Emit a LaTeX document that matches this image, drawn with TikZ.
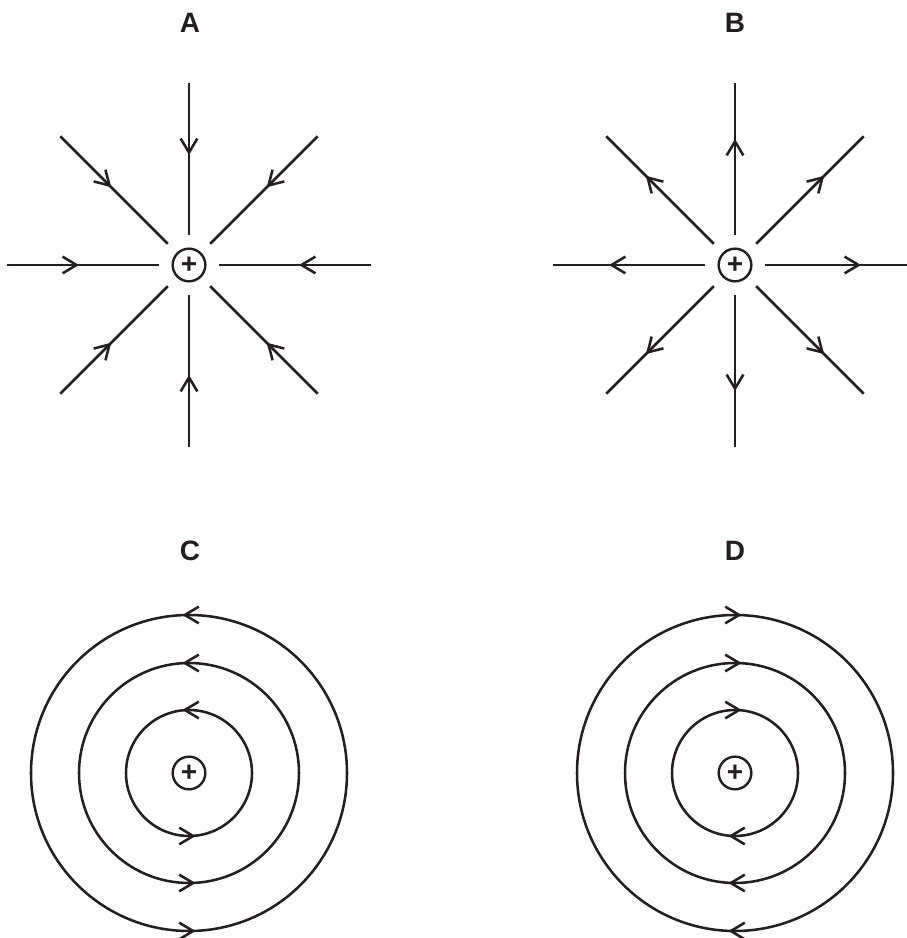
\documentclass[tikz,border=0pt]{standalone}
\usepackage{fontspec}
\setmainfont{Liberation Sans}
\definecolor{Linecol}{HTML}{231F20}
\usetikzlibrary{calc, arrows.meta, decorations.markings, positioning}
\tikzset{
    >={Straight Barb[length=10.5pt, width=12.5pt]},
    field/.style={line width=1.9pt, Linecol},
    charge/.style={circle, draw=Linecol, line width=1.8pt, minimum size=24.5pt,
        inner sep=0pt, text=Linecol, font=\fontsize{21}{21}\selectfont\bfseries},
    panelname/.style={text=Linecol, font=\fontsize{21}{21}\selectfont\bfseries},
    inward/.style={postaction={decorate, decoration={markings,
        mark=at position 0.474 with {\arrow{>}}}}},
    outward/.style={postaction={decorate, decoration={markings,
        mark=at position 0.632 with {\arrow{>}}}}},
    ccw/.style={postaction={decorate, decoration={markings,
        mark=at position 0.25 with {\arrow[xshift=5pt]{>}},
        mark=at position 0.75 with {\arrow[xshift=5pt]{>}}}}},
    cw/.style={postaction={decorate, decoration={markings,
        mark=at position 0.25 with {\arrowreversed[xshift=-5pt]{>}},
        mark=at position 0.75 with {\arrowreversed[xshift=-5pt]{>}}}}}
}

\begin{document}
\begin{tikzpicture}[x=0.75pt, y=0.75pt]
    \useasboundingbox (0,0) rectangle (906,938);

    % Charges
    \node[charge] (qA) at (189,673) {+};
    \node[charge] (qB) at (735,673) {+};
    \node[charge] (qC) at (189,165) {+};
    \node[charge] (qD) at (735,165) {+};

    % Panel letters
    \node[panelname] (nA) at (190,915) {A};
    \node[panelname] (nB) at (735,915) {B};
    \node[panelname] (nC) at (190,387) {C};
    \node[panelname] (nD) at (735,387) {D};

    % A: field lines pointing in
    \foreach \a in {0,45,...,315}
        \draw[field, inward] ($(qA)+(\a:182)$) -- ($(qA)+(\a:30)$);

    % B: field lines pointing out
    \foreach \a in {0,45,...,315}
        \draw[field, outward] ($(qB)+(\a:30)$) -- ($(qB)+(\a:182)$);

    % C and D: circular lines
    \foreach \r in {63,110,158} {
        \draw[field, ccw] (qC) circle[radius=\r];
        \draw[field, cw] (qD) circle[radius=\r];
    }
\end{tikzpicture}
\end{document}
